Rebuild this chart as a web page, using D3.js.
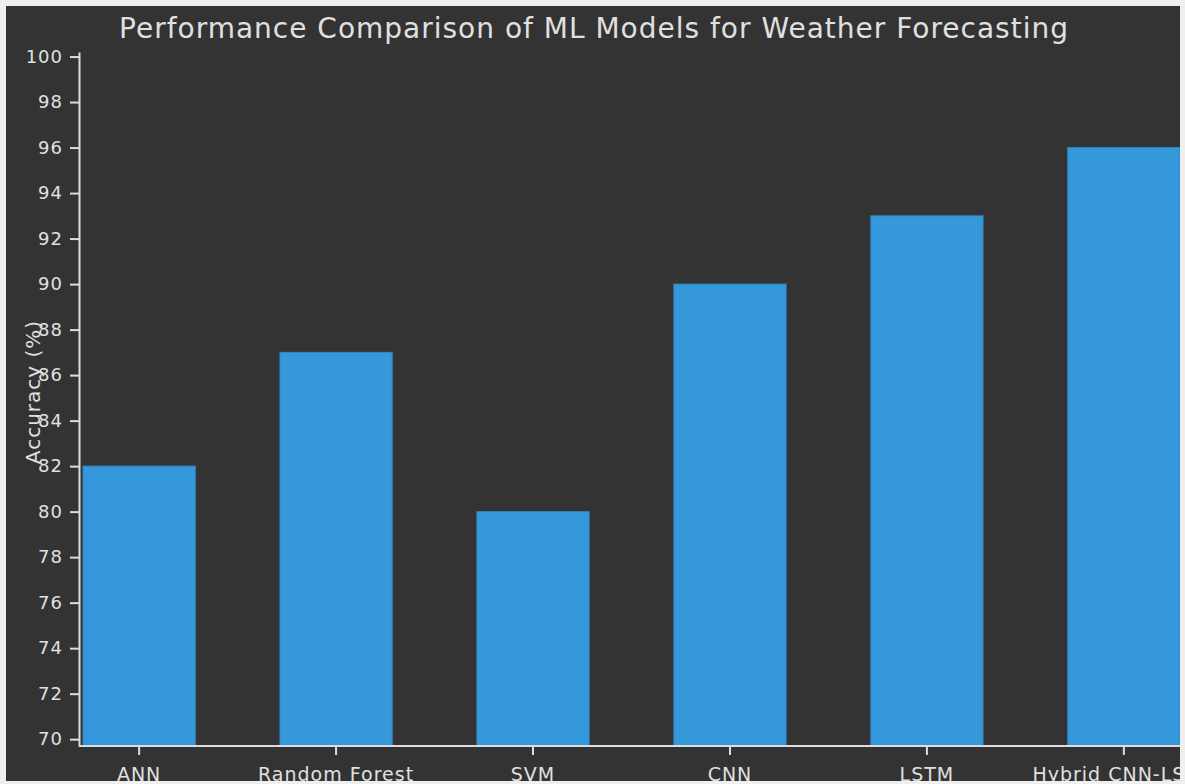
<!DOCTYPE html>
<html>
<head>
<meta charset="utf-8">
<script src="https://cdn.jsdelivr.net/npm/d3@7"></script>
<style>
  html, body { margin: 0; padding: 0; background: #efefef; }
  svg { position: absolute; left: 6px; top: 6px; background: #333333; overflow: hidden; }
  text { font-family: "DejaVu Sans", sans-serif; fill: #e0e0e0; letter-spacing: 1px; }
</style>
</head>
<body>
<script>
// Model accuracy data
const models = ["ANN", "Random Forest", "SVM", "CNN", "LSTM", "Hybrid CNN-LSTM"];
const accuracy = [82, 87, 80, 90, 93, 96];
const yTicks = [70, 72, 74, 76, 78, 80, 82, 84, 86, 88, 90, 92, 94, 96, 98, 100];

const W = 1174, H = 775;
const svg = d3.select("body").append("svg")
  .attr("width", W).attr("height", H);

const axisX = 73, axisBottom = 740, axisTop = 46;

const x = d3.scaleBand()
  .domain(models)
  .range([77, 1174])
  .paddingInner(0.43)
  .paddingOuter(0);

const y = d3.scaleLinear()
  .domain([69.7, 100.2])
  .range([axisBottom, axisTop]);

// Bars
svg.append("g").selectAll("rect")
  .data(models.map((m, i) => ({ m, v: accuracy[i] })))
  .join("rect")
  .attr("x", d => x(d.m))
  .attr("y", d => y(d.v))
  .attr("width", x.bandwidth())
  .attr("height", d => axisBottom - y(d.v))
  .attr("fill", "#3498db")
  .attr("stroke", "#2f86c4")
  .attr("stroke-width", 1);

// Y axis
const gy = svg.append("g")
  .attr("transform", `translate(${axisX},0)`)
  .call(d3.axisLeft(y).tickValues(yTicks).tickSize(9).tickSizeOuter(0).tickPadding(7));
gy.selectAll("text").style("font-size", "18px");

// X axis
const gx = svg.append("g")
  .attr("transform", `translate(0,${axisBottom})`)
  .call(d3.axisBottom(x).tickSize(9).tickSizeOuter(0).tickPadding(13));
gx.select(".domain").attr("d", `M${axisX},0H${W}`);
gx.selectAll("text").style("font-size", "19px");

[gy, gx].forEach(g => {
  g.selectAll("path, line").attr("stroke", "#dddddd").attr("stroke-width", 2);
  g.selectAll("text").attr("fill", "#e0e0e0")
    .style("font-family", '"DejaVu Sans", sans-serif');
});

// Title
svg.append("text")
  .attr("x", 588).attr("y", 32)
  .attr("text-anchor", "middle")
  .style("font-size", "28px")
  .text("Performance Comparison of ML Models for Weather Forecasting");

// Y axis label
svg.append("text")
  .attr("transform", "translate(34,386) rotate(-90)")
  .attr("text-anchor", "middle")
  .style("font-size", "20px")
  .text("Accuracy (%)");
</script>
</body>
</html>
